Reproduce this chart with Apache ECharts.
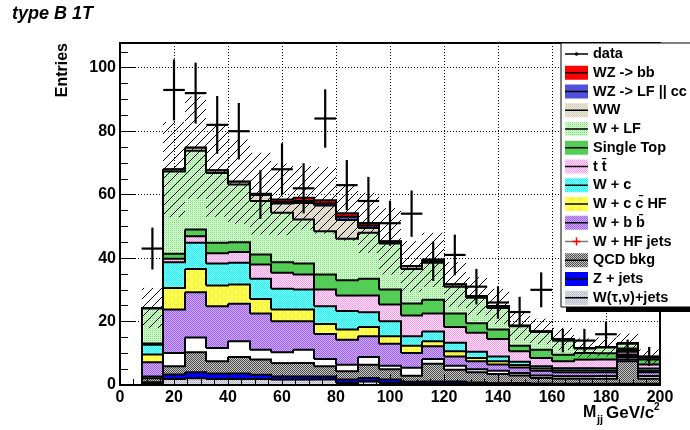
<!DOCTYPE html>
<html>
<head>
<meta charset="utf-8">
<script src="https://cdn.jsdelivr.net/npm/echarts@6/dist/echarts.min.js"></script>
<style>
  html, body { margin: 0; padding: 0; background: #ffffff; }
  #chart { width: 690px; height: 430px; }
</style>
</head>
<body>
<div id="chart"></div>
<script>
// ---- binning (M_jj, GeV/c^2) ----
const binEdges = [8, 16, 24, 32, 40, 48, 56, 64, 72, 80, 88, 96, 104, 112, 120, 128, 136, 144, 152, 160, 168, 176, 184, 192, 200];

// ---- observed events and their errors ----
const dataCounts = [43, 93, 92, 82, 80, 60, 68, 62, 84, 63, 58, 51, 54, 39, 41, 31, 26, 23, 30, 14, 14, 16, 11, 9];
const dataErr    = [6.6, 9.6, 9.6, 9.1, 8.9, 7.7, 8.2, 7.9, 9.2, 7.9, 7.6, 7.1, 7.3, 6.2, 6.4, 5.6, 5.1, 4.8, 5.5, 3.7, 3.7, 4.0, 3.3, 3.0];

// ---- expected contributions per bin (stacked bottom -> top) ----
const wTauNu    = [0.6, 1.9, 2.1, 1.9, 1.9, 1.9, 1.7, 1.7, 1.7, 0.6, 1.1, 0.6, 0.4, 0.5, 0.5, 0.4, 0.3, 0.3, 0.3, 0.2, 0.2, 0.2, 0.2, 0.2];
const zJets     = [0.3, 1.4, 1.9, 1.7, 1.7, 1.3, 1.0, 1.0, 1.0, 1.1, 1.1, 1.1, 0.6, 0.6, 0.6, 0.4, 0.3, 0.3, 0.2, 0.2, 0.2, 0.2, 0.2, 0.2];
const qcdBkg    = [1.2, 2.6, 6.3, 3.9, 5.2, 4.8, 4.2, 4.2, 3.2, 2.6, 4.2, 3.3, 1.9, 5.6, 3.7, 3.2, 2.9, 2.4, 1.7, 1.6, 1.6, 1.6, 7.1, 1.6];
const wHFJets   = [0.6, 4.2, 4.7, 4.2, 5.0, 3.1, 3.4, 4.2, 2.3, 2.1, 2.4, 1.1, 2.5, 1.5, 1.3, 1.0, 1.0, 0.8, 0.8, 0.8, 0.8, 0.8, 0.5, 0.8];
const wbb       = [4.5, 13.7, 14.2, 13.1, 11.8, 11.4, 9.8, 9.0, 7.9, 7.9, 6.6, 6.9, 4.7, 4.0, 2.9, 2.5, 2.0, 1.7, 1.5, 1.2, 1.2, 1.2, 0.8, 1.2];
const wcc       = [2.4, 6.8, 7.4, 6.6, 6.1, 4.6, 3.7, 3.7, 3.1, 3.2, 2.9, 2.4, 2.3, 1.6, 1.6, 1.0, 1.0, 0.8, 0.7, 0.6, 0.6, 0.6, 0.4, 0.5];
const wc        = [3.1, 8.1, 8.2, 6.9, 6.8, 6.4, 6.5, 6.3, 5.6, 5.8, 4.6, 4.7, 3.0, 3.1, 2.7, 2.0, 1.5, 1.0, 0.7, 0.7, 0.7, 0.7, 0.4, 0.7];
const ttbar     = [0.2, 1.1, 2.1, 3.2, 3.4, 4.5, 5.1, 4.7, 5.3, 4.9, 5.3, 5.3, 6.5, 5.6, 5.0, 6.0, 5.5, 3.3, 2.6, 2.2, 2.7, 2.7, 0.9, 1.3];
const singleTop = [0.2, 1.6, 2.1, 3.3, 3.1, 3.1, 3.3, 3.5, 4.7, 4.8, 5.3, 4.7, 3.8, 4.4, 4.2, 3.0, 3.0, 1.8, 2.6, 2.0, 2.1, 2.0, 1.0, 1.5];
const wLF       = [11.0, 25.9, 24.8, 22.0, 18.2, 16.9, 15.6, 13.9, 13.7, 13.1, 14.5, 14.5, 10.9, 11.6, 8.5, 8.0, 6.8, 6.1, 5.6, 4.8, 1.4, 1.8, 1.5, 0.6];
const ww        = [0.2, 0.6, 1.0, 0.8, 0.9, 2.0, 2.9, 5.2, 8.1, 5.9, 1.5, 0.5, 0.8, 1.0, 0.7, 0.5, 0.5, 0.2, 0.2, 0.2, 0.2, 0.2, 0.2, 0.1];
const wzLF      = [0, 0, 0, 0, 0, 0.1, 0.5, 0.6, 0.6, 1.0, 0.8, 0.1, 0, 0, 0, 0, 0, 0, 0, 0, 0, 0, 0, 0];
const wzbb      = [0, 0, 0, 0, 0, 0.2, 0.8, 1.0, 1.0, 1.1, 0.8, 0.1, 0, 0, 0, 0, 0, 0, 0, 0, 0, 0, 0, 0];

// ---- total systematic uncertainty (absolute, per bin) ----
const systErr = [6.3, 15.0, 16.1, 14.6, 13.3, 12.9, 11.3, 10.0, 10.5, 8.6, 9.5, 10.5, 8.0, 8.5, 7.0, 6.0, 5.5, 4.5, 4.0, 3.5, 3.0, 3.0, 3.0, 2.5];

// ---- labels ----
const stackNames = ['W(\u03c4,\u03bd)+jets', 'Z + jets', 'QCD bkg', 'W + HF jets', 'W + b b\u0304', 'W + c c\u0304 HF', 'W + c', 't t\u0304', 'Single Top', 'W + LF', 'WW', 'WZ -> LF || cc', 'WZ -> bb'];
const dataName = 'data';
const yTicks = [0, 20, 40, 60, 80, 100];
const xTicks = [0, 20, 40, 60, 80, 100, 120, 140, 160, 180, 200];

// ---------------------------------------------------------------------------
const FONT = '"Liberation Sans", Arial, Helvetica, sans-serif';

// small repeating fill textures
function tile(w, h, colors) {
  const c = document.createElement('canvas');
  c.width = w; c.height = h;
  const ctx = c.getContext('2d');
  for (let j = 0; j < h; j++) {
    for (let i = 0; i < w; i++) {
      ctx.fillStyle = colors[j * w + i];
      ctx.fillRect(i, j, 1, 1);
    }
  }
  return { image: c, repeat: 'repeat' };
}
function hatchTile(size, color) {
  const c = document.createElement('canvas');
  c.width = size; c.height = size;
  const ctx = c.getContext('2d');
  ctx.strokeStyle = color;
  ctx.lineWidth = 1;
  ctx.beginPath();
  ctx.moveTo(-1, size + 1); ctx.lineTo(size + 1, -1);
  ctx.moveTo(-1, 1); ctx.lineTo(1, -1);
  ctx.moveTo(size - 1, size + 1); ctx.lineTo(size + 1, size - 1);
  ctx.stroke();
  return { image: c, repeat: 'repeat' };
}

const stackFills = [
  tile(2, 2, ['#a8a8b8', '#e4e4ec', '#e4e4ec', '#c8c8d4']),          // W(tau,nu)+jets
  '#0000ff',                                                         // Z + jets
  tile(2, 2, ['#4a4a4a', '#c8c8c8', '#c8c8c8', '#4a4a4a']),          // QCD
  '#ffffff',                                                         // W + HF jets
  tile(2, 2, ['#9a5ef0', '#d0b0ff', '#d0b0ff', '#9a5ef0']),          // W + b bbar
  tile(2, 2, ['#ffff00', '#ffff99', '#ffff99', '#ffff00']),          // W + c cbar
  tile(2, 2, ['#00ffff', '#aaffff', '#aaffff', '#00ffff']),          // W + c
  tile(2, 2, ['#ff99ee', '#ffe6fa', '#ffe6fa', '#ff99ee']),          // t tbar
  '#55cc55',                                                         // single top
  tile(2, 2, ['#66ee66', '#e6fde4', '#e6fde4', '#b8f7b2']),          // W + LF
  tile(2, 2, ['#cfc8b4', '#ece8dc', '#ece8dc', '#ddd6c4']),          // WW
  '#5050dc',                                                         // WZ -> LF
  '#ff0000'                                                          // WZ -> bb
];
const bandFill = hatchTile(9, '#000000');

// cumulative tops of the stack
const nBins = binEdges.length - 1;
const stackValues = [wTauNu, zJets, qcdBkg, wHFJets, wbb, wcc, wc, ttbar, singleTop, wLF, ww, wzLF, wzbb];
const cumulative = [];
stackValues.forEach((vals, k) => {
  cumulative.push(vals.map((v, i) => v + (k > 0 ? cumulative[k - 1][i] : 0)));
});
const totals = cumulative[cumulative.length - 1];

function layerRenderer(fill) {
  return function (params, api) {
    const x0 = api.value(0), x1 = api.value(1), top = api.value(2), next = api.value(3);
    const bl = api.coord([x0, 0]);
    const tr = api.coord([x1, top]);
    const nx = api.coord([x1, next]);
    const L = Math.round(bl[0]), R = Math.round(tr[0]);
    const pts = [];
    if (params.dataIndex === 0) pts.push([L, bl[1]]);
    pts.push([L, tr[1]], [R, tr[1]], [R, nx[1]]);
    return {
      type: 'group',
      children: [
        { type: 'rect', z2: 0, shape: { x: L, y: tr[1], width: R - L, height: bl[1] - tr[1] }, style: { fill: fill, stroke: 'none' } },
        { type: 'polyline', z2: 1, shape: { points: pts }, style: { stroke: '#000000', lineWidth: 2, fill: 'none' } }
      ]
    };
  };
}

const series = [];
// highest cumulative first, lower layers painted over it
for (let k = stackValues.length - 1; k >= 0; k--) {
  const cum = cumulative[k];
  const items = [];
  for (let i = 0; i < nBins; i++) {
    items.push([binEdges[i], binEdges[i + 1], cum[i], i + 1 < nBins ? cum[i + 1] : 0]);
  }
  series.push({
    type: 'custom', name: stackNames[k], coordinateSystem: 'cartesian2d',
    xAxisIndex: 0, yAxisIndex: 0, z: 2 + (stackValues.length - 1 - k),
    renderItem: layerRenderer(stackFills[k]), data: items, silent: true
  });
}

// systematic band
series.push({
  type: 'custom', name: 'syst', coordinateSystem: 'cartesian2d', xAxisIndex: 0, yAxisIndex: 0, z: 20, silent: true,
  data: totals.map((t, i) => [binEdges[i], binEdges[i + 1], t, systErr[i]]),
  renderItem: function (params, api) {
    const a = api.coord([api.value(0), api.value(2) + api.value(3)]);
    const b = api.coord([api.value(1), Math.max(0, api.value(2) - api.value(3))]);
    return { type: 'rect', shape: { x: Math.round(a[0]), y: a[1], width: Math.round(b[0]) - Math.round(a[0]), height: b[1] - a[1] }, style: { fill: bandFill, stroke: 'none' } };
  }
});

// data points with error bars
series.push({
  type: 'custom', name: dataName, coordinateSystem: 'cartesian2d', xAxisIndex: 0, yAxisIndex: 0, z: 30, silent: true,
  data: dataCounts.map((n, i) => [(binEdges[i] + binEdges[i + 1]) / 2, n, dataErr[i], binEdges[i], binEdges[i + 1]]),
  renderItem: function (params, api) {
    const c = api.coord([api.value(0), api.value(1)]);
    const hi = api.coord([api.value(0), api.value(1) + api.value(2)]);
    const lo = api.coord([api.value(0), api.value(1) - api.value(2)]);
    const l = api.coord([api.value(3), api.value(1)]);
    const r = api.coord([api.value(4), api.value(1)]);
    const st = { stroke: '#000000', lineWidth: 2.2, fill: 'none' };
    return {
      type: 'group',
      children: [
        { type: 'line', shape: { x1: l[0], y1: c[1], x2: r[0], y2: c[1] }, style: st },
        { type: 'line', shape: { x1: c[0], y1: hi[1], x2: c[0], y2: lo[1] }, style: st }
      ]
    };
  }
});

// ---- legend ----
const legendGraphics = [];
const LX = 561, LY = 43, LW = 132, LH = 264, rowH = 18.75, row0 = 54;
legendGraphics.push({ type: 'rect', z: 100, shape: { x: LX + 5, y: LY + 5, width: LW, height: LH }, style: { fill: '#000000' } });
legendGraphics.push({ type: 'rect', z: 101, shape: { x: LX, y: LY, width: LW, height: LH }, style: { fill: '#ffffff', stroke: '#000000', lineWidth: 1 } });
const legendEntries = [{ name: dataName, kind: 'data' }];
for (let k = stackNames.length - 1; k >= 0; k--) legendEntries.push({ name: stackNames[k], kind: k === 3 ? 'marker' : 'fill', fill: stackFills[k] });
legendEntries.forEach((e, j) => {
  const cy = row0 + j * rowH;
  if (e.kind === 'fill') {
    legendGraphics.push({ type: 'rect', z: 102, shape: { x: 565, y: cy - 7, width: 23, height: 14 }, style: { fill: e.fill } });
    legendGraphics.push({ type: 'line', z: 103, shape: { x1: 565, y1: cy, x2: 588, y2: cy }, style: { stroke: '#000000', lineWidth: 1.5 } });
  } else if (e.kind === 'data') {
    legendGraphics.push({ type: 'line', z: 103, shape: { x1: 565, y1: cy, x2: 588, y2: cy }, style: { stroke: '#000000', lineWidth: 1.5 } });
    legendGraphics.push({ type: 'circle', z: 103, shape: { cx: 576.5, cy: cy, r: 1.8 }, style: { fill: '#000000' } });
  } else {
    legendGraphics.push({ type: 'line', z: 103, shape: { x1: 565, y1: cy, x2: 588, y2: cy }, style: { stroke: '#777777', lineWidth: 1.5 } });
    legendGraphics.push({ type: 'line', z: 104, shape: { x1: 572.5, y1: cy, x2: 580.5, y2: cy }, style: { stroke: '#ff0000', lineWidth: 1.5 } });
    legendGraphics.push({ type: 'line', z: 104, shape: { x1: 576.5, y1: cy - 4, x2: 576.5, y2: cy + 4 }, style: { stroke: '#ff0000', lineWidth: 1.5 } });
  }
  legendGraphics.push({ type: 'text', z: 103, x: 593, y: cy,
    style: { text: e.name, font: 'bold 14.5px ' + FONT, fill: '#000000', align: 'left', verticalAlign: 'middle', textAlign: 'left', textVerticalAlign: 'middle' } });
});

// ---- titles ----
const titleGraphics = [
  { type: 'text', z: 50, x: 12, y: 14, style: { text: 'type B 1T', font: 'italic bold 18px ' + FONT, fill: '#000', align: 'left', verticalAlign: 'middle', textAlign: 'left', textVerticalAlign: 'middle' } },
  { type: 'text', z: 50, x: 63, y: 43, rotation: Math.PI / 2, style: { text: 'Entries', font: 'bold 16px ' + FONT, fill: '#000', align: 'right', verticalAlign: 'middle', textAlign: 'right', textVerticalAlign: 'middle' } },
  { type: 'text', z: 50, x: 583, y: 413, style: { text: 'M', font: 'bold 16px ' + FONT, fill: '#000', align: 'left', verticalAlign: 'middle', textAlign: 'left', textVerticalAlign: 'middle' } },
  { type: 'text', z: 50, x: 597, y: 420, style: { text: 'jj', font: 'bold 11px ' + FONT, fill: '#000', align: 'left', verticalAlign: 'middle', textAlign: 'left', textVerticalAlign: 'middle' } },
  { type: 'text', z: 50, x: 606, y: 413, style: { text: 'GeV/c', font: 'bold 17px ' + FONT, fill: '#000', align: 'left', verticalAlign: 'middle', textAlign: 'left', textVerticalAlign: 'middle' } },
  { type: 'text', z: 50, x: 654, y: 407, style: { text: '2', font: 'bold 10px ' + FONT, fill: '#000', align: 'left', verticalAlign: 'middle', textAlign: 'left', textVerticalAlign: 'middle' } }
];

const Y_MAX = 107.8;
const labelStyle = { fontFamily: FONT, fontWeight: 'bold', fontSize: 16, color: '#000000' };

const option = {
  animation: false,
  backgroundColor: '#ffffff',
  grid: { left: 120, right: 30, top: 43, bottom: 45, show: true, borderColor: '#000000', borderWidth: 2, backgroundColor: 'transparent' },
  xAxis: [
    { type: 'value', min: 0, max: 200, interval: 20, position: 'bottom', z: 25,
      axisLine: { show: true, onZero: false, lineStyle: { color: '#000', width: 2 } },
      axisTick: { show: true, inside: true, length: 11, lineStyle: { color: '#000', width: 1 } },
      minorTick: { show: true, splitNumber: 4, length: 6, lineStyle: { color: '#000', width: 1 } },
      axisLabel: Object.assign({ margin: 5, formatter: v => (xTicks.indexOf(v) >= 0 ? String(v) : '') }, labelStyle),
      splitLine: { show: false } },
    { type: 'value', min: 0, max: 200, interval: 20, position: 'bottom', z: 0,
      axisLine: { show: false }, axisTick: { show: false }, axisLabel: { show: false },
      splitLine: { show: true, lineStyle: { color: '#000', width: 1, type: [1, 2] } } }
  ],
  yAxis: [
    { type: 'value', min: 0, max: Y_MAX, interval: 20, position: 'left', z: 25,
      axisLine: { show: true, onZero: false, lineStyle: { color: '#000', width: 2 } },
      axisTick: { show: true, inside: true, length: 16, lineStyle: { color: '#000', width: 1 } },
      axisLabel: Object.assign({ margin: 4, showMaxLabel: false, formatter: v => (yTicks.indexOf(v) >= 0 ? String(v) : '') }, labelStyle),
      splitLine: { show: false } },
    { type: 'value', min: 0, max: Y_MAX, interval: 5, position: 'left', z: 25,
      axisLine: { show: false }, axisLabel: { show: false }, splitLine: { show: false },
      axisTick: { show: true, inside: true, length: 8, lineStyle: { color: '#000', width: 1 } } },
    { type: 'value', min: 0, max: Y_MAX, interval: 20, position: 'left', z: 0,
      axisLine: { show: false }, axisTick: { show: false }, axisLabel: { show: false },
      splitLine: { show: true, lineStyle: { color: '#000', width: 1, type: [1, 2] } } }
  ],
  series: series.concat([
    // carriers for the auxiliary axes
    { type: 'line', xAxisIndex: 1, yAxisIndex: 2, data: [], silent: true },
    { type: 'line', xAxisIndex: 0, yAxisIndex: 1, data: [], silent: true }
  ]),
  graphic: { elements: legendGraphics.concat(titleGraphics) }
};

const chart = echarts.init(document.getElementById('chart'), null, { renderer: 'canvas' });
chart.setOption(option);
</script>
</body>
</html>
